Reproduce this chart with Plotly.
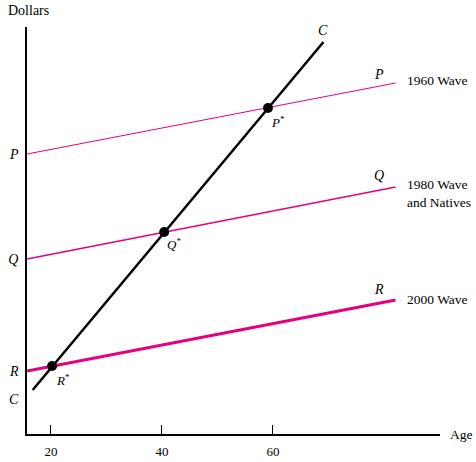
import plotly.graph_objects as go

# Datos (edad vs dolares, unidades arbitrarias)
wave_x = [15.7, 82.1]
wave_names = ["1960 Wave", "1980 Wave<br>and Natives", "2000 Wave"]
wave_letters = ["P", "Q", "R"]
wave_start = [280, 175, 63]
wave_end = [351, 247, 134]
wave_widths = [1, 1.6, 3]

cohort_x = [16.7, 69.1]
cohort_y = [44, 392]

eq_age = [59.1, 40.4, 20.2]
eq_dollars = [326, 202, 68]
eq_labels = ["P", "Q", "R"]

age_ticks = [20, 40, 60]
dollar_ticks = [280, 175, 63, 35]
dollar_ticktext = ["P", "Q", "R", "C"]

PINK = "#e6007e"
FONT = "Liberation Serif"

fig = go.Figure()

# Rectas de cada ola
for i in range(len(wave_names)):
    fig.add_trace(go.Scatter(x=wave_x, y=[wave_start[i], wave_end[i]], mode="lines",
                             line=dict(color=PINK, width=wave_widths[i]), showlegend=False))

# Recta C
fig.add_trace(go.Scatter(x=cohort_x, y=cohort_y, mode="lines",
                         line=dict(color="black", width=2.5), showlegend=False))

# Puntos de equilibrio
fig.add_trace(go.Scatter(x=eq_age, y=eq_dollars, mode="markers",
                         marker=dict(color="black", size=10), showlegend=False,
                         cliponaxis=False))

# Etiquetas de las olas
label_y = [354, 241, 135]
letter_y = [360, 259, 145]
for i in range(len(wave_names)):
    fig.add_annotation(x=83.8, y=label_y[i], text=wave_names[i], showarrow=False,
                       xanchor="left", align="left", font=dict(size=13.5))
    fig.add_annotation(x=79.1, y=letter_y[i], text="<i>" + wave_letters[i] + "</i>",
                       showarrow=False, font=dict(size=14))

fig.add_annotation(x=69.0, y=404, text="<i>C</i>", showarrow=False, font=dict(size=14))

star_x = [60.9, 42.2, 22.2]
star_y = [312, 190, 54]
for i in range(len(eq_labels)):
    fig.add_annotation(x=star_x[i], y=star_y[i],
                       text="<i>" + eq_labels[i] + "</i><sup>*</sup>",
                       showarrow=False, font=dict(size=13))

fig.add_annotation(x=-0.052, y=1.04, xref="paper", yref="paper", text="Dollars",
                   showarrow=False, xanchor="left", yanchor="middle", font=dict(size=14))
fig.add_annotation(x=1.02, y=-0.002, xref="paper", yref="paper", text="Age",
                   showarrow=False, xanchor="left", yanchor="middle", font=dict(size=13.5))

fig.update_layout(
    width=476, height=462,
    margin=dict(l=27, r=36, t=27, b=28),
    plot_bgcolor="white", paper_bgcolor="white",
    font=dict(family=FONT, color="black"),
    xaxis=dict(range=[15.68, 90.1], showgrid=False, zeroline=False, automargin=False,
               showline=True, linecolor="black", linewidth=1.5,
               tickvals=age_ticks, ticks="inside", ticklen=9, tickcolor="black",
               tickwidth=1, ticklabelstandoff=5, tickfont=dict(size=13)),
    yaxis=dict(range=[0, 407], showgrid=False, zeroline=False, automargin=False,
               showline=True, linecolor="black", linewidth=1.5,
               tickvals=dollar_ticks, ticktext=["<i>" + t + "</i>" for t in dollar_ticktext],
               ticks="", ticklabelstandoff=4, tickfont=dict(size=14)),
)

# quitar el margen del body para que la figura quede en la esquina
fig.write_html("out.html", config={"displayModeBar": False},
               post_script="document.body.style.margin='0';")
